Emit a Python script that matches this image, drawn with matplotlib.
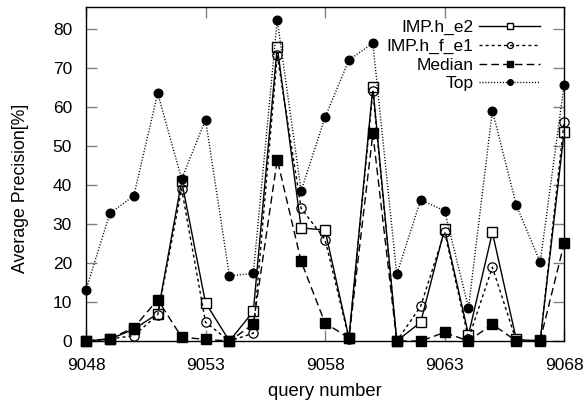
import numpy as np
import matplotlib
matplotlib.use("Agg")
import matplotlib.pyplot as plt

plt.rcParams["font.family"] = ["Liberation Sans", "DejaVu Sans"]

# query numbers 9048 .. 9068
queries = list(range(9048, 9069))

imp_h_e2 = [0, 0.5, 3, 7, 41, 9.8, 0, 7.6, 75.4, 29, 28.4, 0.8, 65, 0,
            4.8, 28.7, 1.6, 27.8, 0.4, 0, 53.6]
imp_h_f_e1 = [0, 0.5, 1.4, 6.7, 39, 4.8, 0, 2.0, 73.2, 34, 26, 0.6, 64, 0,
              8.9, 28, 0.6, 18.9, 0, 0, 56.2]
median = [0, 0.6, 3.4, 10.6, 1.0, 0.4, 0, 4.3, 46.5, 20.4, 4.6, 0.8, 53.2, 0,
          0, 2.2, 0, 4.3, 0, 0.2, 25]
top = [13.1, 32.7, 37.2, 63.5, 41.5, 56.7, 16.7, 17.3, 82.2, 38.5, 57.3, 72,
       76.3, 17.1, 36.1, 33.4, 8.5, 59, 34.8, 20.2, 65.6]

fig = plt.figure(figsize=(5.87, 4.05), dpi=100)
ax = fig.add_axes([0.1465, 0.158, 0.8145, 0.825])

ax.plot(queries, imp_h_e2, color="black", lw=1.0, ls="-", marker="s",
        ms=7, mfc="white", mec="black", mew=1.0, label="IMP.h_e2", clip_on=False)
ax.plot(queries, imp_h_f_e1, color="black", lw=1.0, ls=(0, (2.2, 2.2)), marker="o",
        ms=6.7, mfc="none", mec="black", mew=0.9, label="IMP.h_f_e1", clip_on=False)
ax.plot(queries, median, color="black", lw=1.0, ls=(0, (5.5, 3)), marker="s",
        ms=7, mfc="black", mec="black", label="Median", clip_on=False)
ax.plot(queries, top, color="black", lw=1.0, ls=(0, (0.8, 1.3)), marker="o",
        ms=6.2, mfc="black", mec="black", label="Top", clip_on=False)

ax.set_xlim(9048, 9068)
ax.set_ylim(0, 85.6)
ax.set_xticks([9048, 9053, 9058, 9063, 9068])
ax.set_yticks(np.arange(0, 81, 10))
ax.tick_params(direction="in", length=8, width=1, color="gray",
               top=True, right=True, labelsize=12.5)
ax.tick_params(axis="x", pad=12)
ax.tick_params(axis="y", pad=10)
for s in ax.spines.values():
    s.set_linewidth(1.0)

ax.set_xlabel("query number", fontsize=13.2)
ax.xaxis.set_label_coords(0.5, -0.150)
ax.xaxis.label.set_va("center")
ax.set_ylabel("Average Precision[%]", fontsize=12.8)
ax.yaxis.set_label_coords(-0.138, 0.458)
ax.yaxis.label.set_va("center")

ax.legend(loc="upper right", frameon=False, markerfirst=False, fontsize=12.5,
          handlelength=3.5, handletextpad=0.35, labelspacing=0.2,
          borderpad=0, borderaxespad=0, markerscale=0.65,
          bbox_to_anchor=(0.950, 0.961))

fig.savefig("out.png", dpi=100)
